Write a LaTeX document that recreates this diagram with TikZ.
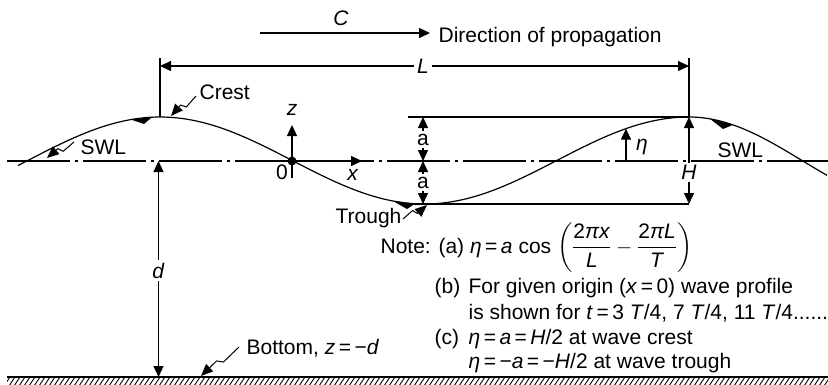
\documentclass[tikz,border=0pt]{standalone}
\usepackage{fix-cm}
\usepackage{amsmath}
\usepackage{fontspec}
\setmainfont{Liberation Sans}
\usetikzlibrary{arrows.meta,calc}
\newcommand\leaderline[2]{\draw[leader] (#1) -- ($(#1)!0.45!(#2)!2.5pt!90:(#2)$) -- ($(#1)!0.55!(#2)!2.5pt!-90:(#2)$) -- (#2);}
\begin{document}
\begin{tikzpicture}[x=1pt,y=-1pt,line width=1.2pt,
  declare function={wy(\s)=(\s<689)*(160.5-43.5*cos((\s-160)*0.680529))+(\s>=689)*(160.5-43.5*cos((\s-689)*0.796460));},
  txt/.style={inner sep=0pt,font=\fontsize{21}{25}\selectfont},
  gaplbl/.style={txt,fill=white,inner xsep=3pt,inner ysep=2.5pt},
  ar/.style={-{Triangle[length=11pt,width=10pt]}},
  dar/.style={{Triangle[length=11pt,width=10pt]}-{Triangle[length=11pt,width=10pt]}},
  leader/.style={-{Triangle[length=12pt,width=10pt]},line width=1pt},
  swl/.style={dash pattern=on 63pt off 5pt on 3pt off 5pt},
  wmark/.style={fill=black,draw=none}]
\fill[white] (0,0) rectangle (828,384);
\useasboundingbox (0,0) rectangle (828,384);

% key coordinates
\coordinate (O) at (292,161);
\coordinate (Cr1) at (160,117);
\coordinate (Cr2) at (689,117);
\coordinate (Tr2) at (689,204);

% still water level and wave profile
\draw[swl] (7,161) coordinate (swlA) -- (828,161) coordinate (swlB);
\draw plot[domain=18:827,samples=260] (\x,{wy(\x)});
\fill[wmark] (131,{wy(131)}) -- (152,{wy(152)}) -- (144,124) -- cycle;
\fill[wmark] (393,{wy(393)}) -- (415,{wy(415)}) -- (407,209) -- cycle;
\fill[wmark] (710,{wy(710)}) -- (733,{wy(733)}) -- (723,129) -- cycle;

% bottom
\draw (7,377) coordinate (bA) -- (828,377) coordinate (bB);
\begin{scope}
\clip (7,377) rectangle (828,386);
\foreach \i in {0,...,166} \draw[line width=0.9pt] ({7+5*\i-3},386) -- ({7+5*\i+3},377);
\end{scope}

% celerity
\coordinate (c1) at (260,33); \coordinate (c2) at (430,33);
\draw[ar] (c1) -- (c2);
\node[txt,anchor=base] (Clab) at (341,25) {\textit{C}};
\node[txt,anchor=base west] (dir) at (438,42) {Direction of propagation};

% wave length
\coordinate (v1) at (160,58); \coordinate (v2) at (689,58);
\draw (v1) -- (Cr1);
\draw (v2) -- (Cr2);
\coordinate (L1) at (160,66); \coordinate (L2) at (689,66);
\draw[dar] (L1) -- (L2);
\node[gaplbl] (Llab) at (423,66) {\textit{L}};

% axes
\coordinate (zt) at (292,125); \coordinate (xt) at (362,161); \coordinate (zb) at (292,178);
\draw[ar] (O) -- (zt);
\draw (O) -- (zb);
\draw[ar] (O) -- (xt);
\fill (O) circle[radius=4.5pt];
\node[txt,anchor=base] (zl) at (292,115) {\textit{z}};
\node[txt,anchor=base] (zero) at (282,179) {0};
\node[txt,anchor=base] (xl) at (353,180) {\textit{x}};

% crest / trough levels
\coordinate (h1) at (408,117); \coordinate (h2) at (412,204);
\draw (h1) -- (Cr2);
\draw (h2) -- (Tr2);
\coordinate (a1) at (423,117); \coordinate (a2) at (423,161); \coordinate (a3) at (423,204);
\draw[dar] (a1) -- (a2);
\draw[dar] (a2) -- (a3);
\node[gaplbl] (alab1) at (423,139.5) {a};
\node[gaplbl] (alab2) at (423,182.5) {a};
\draw[dar] (Cr2) -- (Tr2);
\node[gaplbl] (Hlab) at (689,172.5) {\textit{H}};
\coordinate (e1) at (626,161); \coordinate (e2) at (626,{wy(626)});
\draw[ar] (e1) -- (e2);
\node[txt,anchor=base] (eta) at (642,150) {\textit{η}};

% depth
\coordinate (d1) at (158.5,161); \coordinate (d2) at (158.5,377);
\draw[dar] (d1) -- (d2);
\node[gaplbl] (dlab) at (158.5,270.5) {\textit{d}};

% labels with leaders
\node[txt,anchor=base west] (crest) at (199,99) {Crest};
\coordinate (lc1) at (196,96); \coordinate (lc2) at (171,116);
\leaderline{lc1}{lc2}
\node[txt,anchor=base west] (swl1) at (80,154) {SWL};
\coordinate (ls1) at (74,142); \coordinate (ls2) at (47,158);
\leaderline{ls1}{ls2}
\node[txt,anchor=base west] (swl2) at (717,157) {SWL};
\node[txt,anchor=base west] (trough) at (335,223) {Trough};
\coordinate (lt1) at (403,219); \coordinate (lt2) at (427,205);
\leaderline{lt1}{lt2}
\node[txt,anchor=base west] (bottom) at (246,354) {Bottom, \textit{z}\,=\,−\textit{d}};
\coordinate (lb1) at (239,347); \coordinate (lb2) at (201,376);
\leaderline{lb1}{lb2}

% notes
\node[txt,anchor=base west] (na) at (380,253) {Note: (a) \textit{η}\,=\,\textit{a} cos $\left(\dfrac{\mbox{2\textit{πx}}}{\mbox{\textit{L}}}-\dfrac{\mbox{2\textit{πL}}}{\mbox{\textit{T}}}\right)$};
\node[txt,anchor=base west] (nb) at (434,293) {(b)};
\node[txt,anchor=base west] (nb1) at (468,293) {For given origin (\textit{x}\,=\,0) wave profile};
\node[txt,anchor=base west] (nb2) at (468,319) {is shown for \textit{t}\,=\,3 \textit{T}/4, 7 \textit{T}/4, 11 \textit{T}/4......};
\node[txt,anchor=base west] (nc) at (434,344) {(c)};
\node[txt,anchor=base west] (nc1) at (468,344) {\textit{η}\,=\,\textit{a}\,=\,\textit{H}/2 at wave crest};
\node[txt,anchor=base west] (nc2) at (468,368) {\textit{η}\,=\,−\textit{a}\,=\,−\textit{H}/2 at wave trough};
\end{tikzpicture}
\end{document}
